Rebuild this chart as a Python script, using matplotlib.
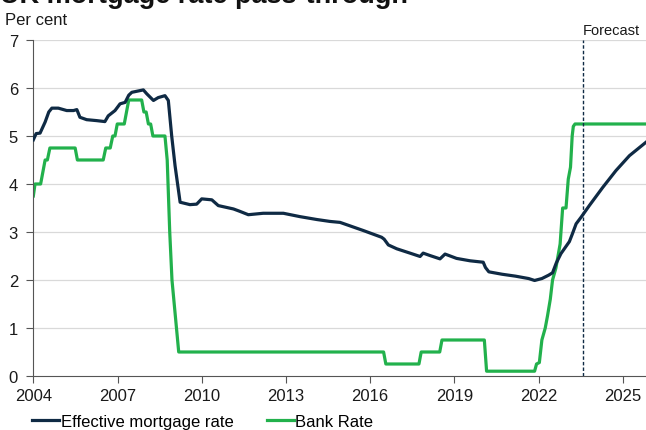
import numpy as np
import matplotlib.pyplot as plt

plt.rcParams['font.family'] = ['Liberation Sans', 'DejaVu Sans']

# effective mortgage rate (decimal year, per cent)
mort_x = [2004.00, 2004.10, 2004.24, 2004.42, 2004.55, 2004.66, 2004.89, 2005.19,
          2005.43, 2005.55, 2005.66, 2005.90, 2006.26, 2006.55, 2006.67, 2006.91,
          2007.09, 2007.27, 2007.40, 2007.51, 2007.92, 2008.04, 2008.28, 2008.45,
          2008.69, 2008.81, 2008.93, 2009.05, 2009.23, 2009.58, 2009.82, 2010.00,
          2010.36, 2010.59, 2011.13, 2011.36, 2011.66, 2012.19, 2012.91, 2013.50,
          2014.10, 2014.57, 2014.93, 2015.76, 2016.41, 2016.50, 2016.65, 2016.95,
          2017.42, 2017.78, 2017.89, 2018.13, 2018.49, 2018.67, 2019.08, 2019.56,
          2020.03, 2020.11, 2020.23, 2020.70, 2021.18, 2021.65, 2021.86, 2022.12,
          2022.36, 2022.50, 2022.63, 2022.80, 2022.92, 2023.10, 2023.20, 2023.34,
          2023.52, 2023.81, 2024.29, 2024.76, 2025.24, 2025.83]
mort_y = [4.92, 5.05, 5.06, 5.29, 5.50, 5.58, 5.58, 5.53,
          5.53, 5.55, 5.39, 5.34, 5.32, 5.30, 5.42, 5.53,
          5.67, 5.70, 5.85, 5.91, 5.96, 5.88, 5.74, 5.80,
          5.84, 5.74, 5.00, 4.38, 3.62, 3.57, 3.58, 3.69,
          3.67, 3.55, 3.48, 3.43, 3.36, 3.39, 3.39, 3.32,
          3.26, 3.22, 3.20, 3.03, 2.89, 2.85, 2.73, 2.65,
          2.56, 2.49, 2.56, 2.51, 2.44, 2.54, 2.45, 2.40,
          2.37, 2.26, 2.17, 2.12, 2.08, 2.03, 1.99, 2.03,
          2.10, 2.15, 2.35, 2.55, 2.65, 2.80, 2.95, 3.17,
          3.31, 3.55, 3.93, 4.28, 4.59, 4.87]

# Bank Rate
bank_x = [2004.00, 2004.06, 2004.26, 2004.34, 2004.42, 2004.50, 2004.59, 2005.49,
          2005.57, 2006.49, 2006.58, 2006.74, 2006.83, 2006.91, 2006.99, 2007.24,
          2007.32, 2007.40, 2007.86, 2007.94, 2008.02, 2008.10, 2008.18, 2008.26,
          2008.69, 2008.77, 2008.86, 2008.94, 2009.02, 2009.10, 2009.18, 2016.48,
          2016.56, 2017.74, 2017.82, 2018.48, 2018.56, 2020.07, 2020.15, 2021.86,
          2021.93, 2022.03, 2022.12, 2022.24, 2022.32, 2022.42, 2022.50, 2022.62,
          2022.77, 2022.86, 2022.98, 2023.06, 2023.14, 2023.20, 2023.24, 2023.30,
          2025.83]
bank_y = [3.75, 4.00, 4.00, 4.25, 4.50, 4.50, 4.75, 4.75,
          4.50, 4.50, 4.75, 4.75, 5.00, 5.00, 5.25, 5.25,
          5.50, 5.75, 5.75, 5.50, 5.50, 5.25, 5.25, 5.00,
          5.00, 4.50, 3.00, 2.00, 1.50, 1.00, 0.50, 0.50,
          0.25, 0.25, 0.50, 0.50, 0.75, 0.75, 0.10, 0.10,
          0.25, 0.28, 0.75, 1.00, 1.25, 1.60, 2.00, 2.25,
          2.75, 3.50, 3.50, 4.10, 4.35, 5.00, 5.20, 5.25,
          5.25]

forecast_start = 2023.57
year_ticks = [2004, 2007, 2010, 2013, 2016, 2019, 2022, 2025]

navy = '#0f2a44'
green = '#22b14c'

fig = plt.figure(figsize=(6.46, 4.31), dpi=100)
ax = fig.add_axes([0.0516, 0.1253, 0.9484, 0.7796])

for v in range(1, 8):
    ax.axhline(v, color='#d9d9d9', lw=0.9, zorder=0)

ax.plot(mort_x, mort_y, color=navy, lw=2.3, label='Effective mortgage rate', zorder=3)
ax.plot(bank_x, bank_y, color=green, lw=2.3, label='Bank Rate', zorder=2)
ax.axvline(forecast_start, color=navy, lw=1.0, ls=(0, (2.5, 1.5)), zorder=4)

ax.set_xlim(2004, 2025.83)
ax.set_ylim(0, 7)
ax.set_xticks(year_ticks)
ax.set_yticks(range(0, 8))
ax.tick_params(axis='both', labelsize=12, length=5, width=0.8, color='#555555',
               labelcolor='#1a1a1a')
ax.tick_params(axis='x', pad=4)
ax.tick_params(axis='y', pad=6)
for s in ['top', 'right']:
    ax.spines[s].set_visible(False)
for s in ['left', 'bottom']:
    ax.spines[s].set_color('#555555')
    ax.spines[s].set_linewidth(0.8)

# title sits mostly above the top edge, as in the source image
fig.text(0.0, 0.992, 'UK mortgage rate pass-through', fontsize=19.5,
         fontweight='bold', va='baseline', ha='left', color='#111111')
fig.text(0.008, 0.952, 'Per cent', fontsize=12, va='center', ha='left', color='#1a1a1a')
fig.text(583 / 646, 1 - 31 / 431, 'Forecast', fontsize=10.5, va='center', ha='left',
         color='#1a1a1a')

fig.legend(loc='lower left', bbox_to_anchor=(0.027, -0.032), ncol=2, frameon=False,
           fontsize=12, handlelength=1.6, handletextpad=0.1, columnspacing=2.0)

fig.savefig('out.png', dpi=100)
